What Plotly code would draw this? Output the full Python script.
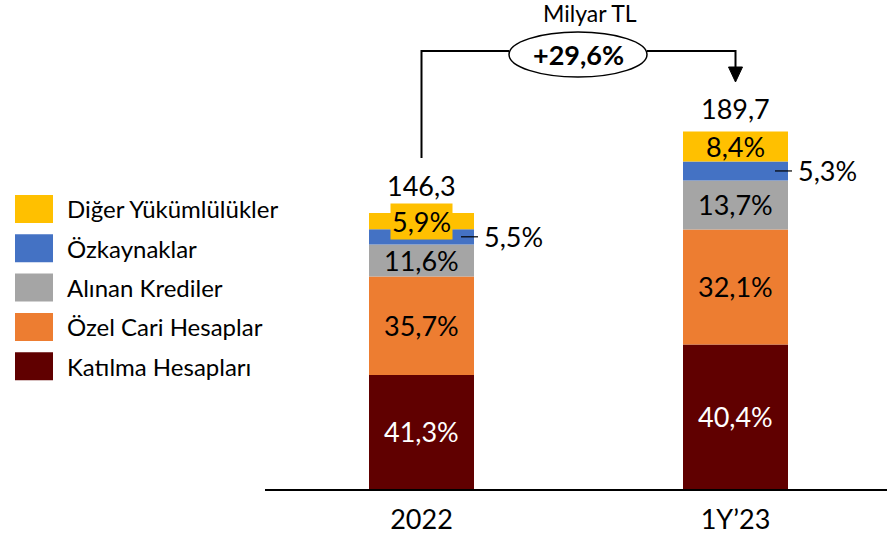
import plotly.graph_objects as go

# Data (Milyar TL, share of total in %)
categories = ["2022", "1Y’23"]
totals = [146.3, 189.7]
series_names = ["Katılma Hesapları", "Özel Cari Hesaplar", "Alınan Krediler",
                "Özkaynaklar", "Diğer Yükümlülükler"]
shares = {
    "Katılma Hesapları": [41.3, 40.4],
    "Özel Cari Hesaplar": [35.7, 32.1],
    "Alınan Krediler": [11.6, 13.7],
    "Özkaynaklar": [5.5, 5.3],
    "Diğer Yükümlülükler": [5.9, 8.4],
}
growth_label = "+29,6%"
unit_label = "Milyar TL"

colors = {
    "Katılma Hesapları": "#600000",
    "Özel Cari Hesaplar": "#ED7D31",
    "Alınan Krediler": "#A5A5A5",
    "Özkaynaklar": "#4472C4",
    "Diğer Yükümlülükler": "#FFC000",
}
text_colors = {
    "Katılma Hesapları": "white",
    "Özel Cari Hesaplar": "black",
    "Alınan Krediler": "black",
    "Özkaynaklar": "black",
    "Diğer Yükümlülükler": "black",
}

FONT = "Lato, 'Noto Sans', sans-serif"
W, H = 887, 534
AXIS_PX = 489            # pixel row of the baseline
PX_PER_UNIT = 1.887      # vertical scale
PX_PER_X = 314           # horizontal distance between bar centers
X0_PX = 421.5            # pixel column of first bar center
AX_LEFT_PX = 265

def fmt(v, dec=1):
    return f"{v:.{dec}f}".replace(".", ",")

xs = list(range(len(categories)))
bar_w = 105 / PX_PER_X

fig = go.Figure()
annotations = []
shapes = []

# stacked segments, values derived from share x total
bases = [0.0] * len(categories)
for name in series_names:
    vals = [totals[i] * shares[name][i] / 100 for i in xs]
    fig.add_trace(go.Bar(
        x=xs, y=vals, base=bases[:], width=bar_w, name=name,
        marker=dict(color=colors[name], line=dict(width=0)),
        showlegend=False, hoverinfo="skip",
    ))
    for i in xs:
        mid = bases[i] + vals[i] / 2
        label = fmt(shares[name][i]) + "%"
        if name == "Özkaynaklar":
            # value shown outside with a short leader line
            right = i + bar_w / 2
            shapes.append(dict(type="line", xref="x", yref="y",
                               x0=right - 13 / PX_PER_X, x1=right + 4 / PX_PER_X,
                               y0=mid, y1=mid, line=dict(color="black", width=1.2)))
            annotations.append(dict(x=right + 8 / PX_PER_X, y=mid, xref="x", yref="y",
                                    text=label, showarrow=False, xanchor="left",
                                    yanchor="middle",
                                    font=dict(family=FONT, size=27, color="black")))
        else:
            ann = dict(x=i, y=mid, xref="x", yref="y", text=label, showarrow=False,
                       xanchor="center", yanchor="middle",
                       font=dict(family=FONT, size=27, color=text_colors[name]))
            # a thin segment gets a label box in its own colour
            if vals[i] * PX_PER_UNIT < 25:
                ann.update(bgcolor=colors[name], borderpad=1)
            annotations.append(ann)
        bases[i] += vals[i]

# totals above bars
total_shift = [27, 23]
for i in xs:
    annotations.append(dict(x=i, y=totals[i], xref="x", yref="y", text=fmt(totals[i]),
                            showarrow=False, xanchor="center", yanchor="middle",
                            yshift=total_shift[i],
                            font=dict(family=FONT, size=27, color="black")))

# growth connector
def py(px):
    return (AXIS_PX - px) / PX_PER_UNIT

def pxx(px):
    return (px - X0_PX) / PX_PER_X

line_y = py(51)
ell_x0, ell_x1 = pxx(509), pxx(647)
ell_y0, ell_y1 = py(77), py(32)
blk = dict(color="black", width=2)
shapes.append(dict(type="path", xref="x", yref="y", line=blk,
                   path=f"M 0 {py(158)} L 0 {line_y} L {ell_x0} {line_y}"))
shapes.append(dict(type="path", xref="x", yref="y", line=blk,
                   path=f"M {ell_x1} {line_y} L 1 {line_y} L 1 {py(68)}"))
shapes.append(dict(type="path", xref="x", yref="y", fillcolor="black",
                   line=dict(color="black", width=1),
                   path=f"M {1 - 7 / PX_PER_X} {py(67)} L {1 + 7 / PX_PER_X} {py(67)} "
                        f"L 1 {py(82)} Z"))
shapes.append(dict(type="circle", xref="x", yref="y", x0=ell_x0, x1=ell_x1,
                   y0=ell_y0, y1=ell_y1, fillcolor="white",
                   line=dict(color="black", width=1.5)))
annotations.append(dict(x=(ell_x0 + ell_x1) / 2, y=(ell_y0 + ell_y1) / 2, xref="x",
                        yref="y", text=f"<b>{growth_label}</b>", showarrow=False,
                        xanchor="center", yanchor="middle",
                        font=dict(family=FONT, size=27, color="black")))
annotations.append(dict(x=590 / W, y=1 - 13 / H, xref="paper", yref="paper",
                        text=unit_label, showarrow=False, xanchor="center",
                        yanchor="middle",
                        font=dict(family=FONT, size=23, color="black")))

# legend drawn as swatches, top to bottom
legend_rows = ["Diğer Yükümlülükler", "Özkaynaklar", "Alınan Krediler",
               "Özel Cari Hesaplar", "Katılma Hesapları"]
for k, name in enumerate(legend_rows):
    cy = 209 + 39.3 * k
    shapes.append(dict(type="rect", xref="paper", yref="paper",
                       x0=15 / W, x1=53 / W, y0=1 - (cy + 14) / H, y1=1 - (cy - 14) / H,
                       fillcolor=colors[name], line=dict(width=0)))
    annotations.append(dict(x=65 / W, y=1 - cy / H, xref="paper", yref="paper",
                            text=name, showarrow=False, xanchor="left",
                            yanchor="middle",
                            font=dict(family=FONT, size=24, color="black")))

x_lo = (AX_LEFT_PX - X0_PX) / PX_PER_X
x_hi = (W - X0_PX) / PX_PER_X
y_hi = AXIS_PX / PX_PER_UNIT

fig.update_layout(
    width=W, height=H, margin=dict(l=0, r=0, t=0, b=0, autoexpand=False),
    paper_bgcolor="white", plot_bgcolor="white",
    barmode="overlay", shapes=shapes, annotations=annotations,
    xaxis=dict(domain=[AX_LEFT_PX / W, 1], range=[x_lo, x_hi], tickvals=xs,
               ticktext=categories, showline=True, linecolor="black", linewidth=1.5,
               showgrid=False, zeroline=False, ticks="", ticklabelstandoff=6,
               automargin=False,
               tickfont=dict(family=FONT, size=27, color="black"), fixedrange=True),
    yaxis=dict(domain=[(H - AXIS_PX) / H, 1], range=[0, y_hi], visible=False,
               showgrid=False, zeroline=False, fixedrange=True, automargin=False),
)

fig.write_html("out.html")
